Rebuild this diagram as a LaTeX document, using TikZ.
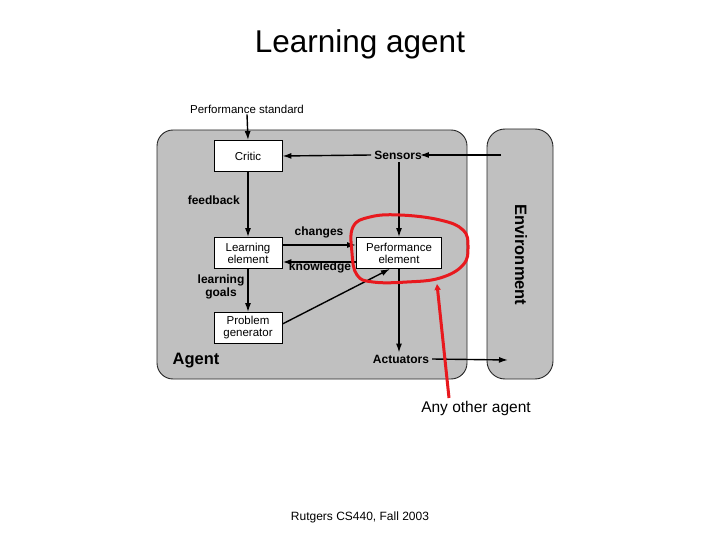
\documentclass[tikz,border=0pt]{standalone}
\usepackage{fontspec}
\setmainfont{Liberation Sans}
\usetikzlibrary{arrows.meta}
\definecolor{boxgray}{HTML}{C0C0C0}
\definecolor{redpen}{HTML}{E8191E}
\begin{document}
\begin{tikzpicture}[x=1pt,y=-1pt,
  lbl/.style={font=\fontsize{12}{12.5}\selectfont\bfseries, inner sep=0pt, align=center},
  plain/.style={font=\fontsize{11.5}{12}\selectfont, inner sep=0pt, align=center},
  elem/.style={draw=black, line width=0.8pt, fill=white, minimum width=68pt, minimum height=31pt, inner sep=0pt, align=center, font=\fontsize{11.5}{12}\selectfont},
  conn/.style={line width=1.4pt, -{Latex[length=9pt,width=6pt]}},
  region/.style={draw=black!85, line width=0.9pt, fill=boxgray}]
\useasboundingbox (0,0) rectangle (720,540);
% title & footer
\node[font=\fontsize{31.5}{34}\selectfont, inner sep=0pt] (title) at (360,44) {Learning agent};
\node[font=\fontsize{12}{13}\selectfont, inner sep=0pt] (foot) at (360,517) {Rutgers CS440, Fall 2003};
% regions
\draw[region, rounded corners=16pt] (157,130) rectangle (467,379);
\draw[region, rounded corners=18pt] (487,129) rectangle (553,379);
\node[font=\fontsize{16.5}{18}\selectfont\bfseries, inner sep=0pt] (agentlbl) at (196,361) {Agent};
\node[font=\fontsize{16.5}{18}\selectfont\bfseries, inner sep=0pt, rotate=-90] (envlbl) at (521,255) {Environment};
% boxes
\node[elem] (critic) at (248,156) {Critic};
\node[elem] (le) at (248,253) {Learning\\element};
\node[elem, minimum width=85pt] (pe) at (399,253) {Performance\\element};
\node[elem] (pg) at (248,328) {Problem\\generator};
% text nodes
\node[plain] (ps) at (247,109) {Performance standard};
\node[lbl] (sensors) at (398,155) {Sensors};
\node[lbl] (actuators) at (401,359) {Actuators};
\node[lbl, anchor=east] (feedback) at (240,200) {feedback};
\node[lbl] (changes) at (319,232) {changes};
\node[lbl] (knowledge) at (320,267) {knowledge};
\node[lbl] (goals) at (221,287) {learning\\goals};
\coordinate (envin) at (501,155);
\coordinate (envout) at (508,360);
% connectors
\draw[conn] (ps.south) ++(0,1) -- (critic.north);
\draw[conn] (envin) -- ([xshift=-2pt]sensors.east);
\draw[conn] ([xshift=-3pt]sensors.west) -- (critic.east);
\draw[conn] (pe.north |- sensors.south) ++(0,3) -- (pe.north);
\draw[conn] (critic.south) -- (le.north);
\draw[conn] ([yshift=8pt]le.east) -- ([yshift=8pt]pe.west);
\draw[conn, line width=1.7pt] ([yshift=-9pt]pe.west) -- ([yshift=-9pt]le.east);
\draw[conn] (le.south) -- (pg.north);
\draw[conn] ([yshift=4pt]pg.east) -- ([xshift=-9pt]pe.south);
\draw[conn] (pe.south) -- ([yshift=2pt]pe.south |- actuators.north);
\draw[conn] ([xshift=3pt]actuators.east) -- (envout);
% red annotation
\draw[redpen, line width=3pt, line join=round] plot[smooth cycle, tension=0.7] coordinates
  {(353,227) (370,217) (400,215) (440,220) (463,230) (468,247) (463,265) (440,278) (407,282) (373,282) (357,275) (352,253)};
\coordinate (ptrbase) at (449,398);
\coordinate (ptrtip) at (437,284);
\draw[redpen, line width=3pt, -{Triangle[length=6pt,width=6pt]}] (ptrbase) -- (ptrtip);
\node[font=\fontsize{15.5}{17}\selectfont, inner sep=0pt] (other) at (476,408) {Any other agent};
\end{tikzpicture}
\end{document}
